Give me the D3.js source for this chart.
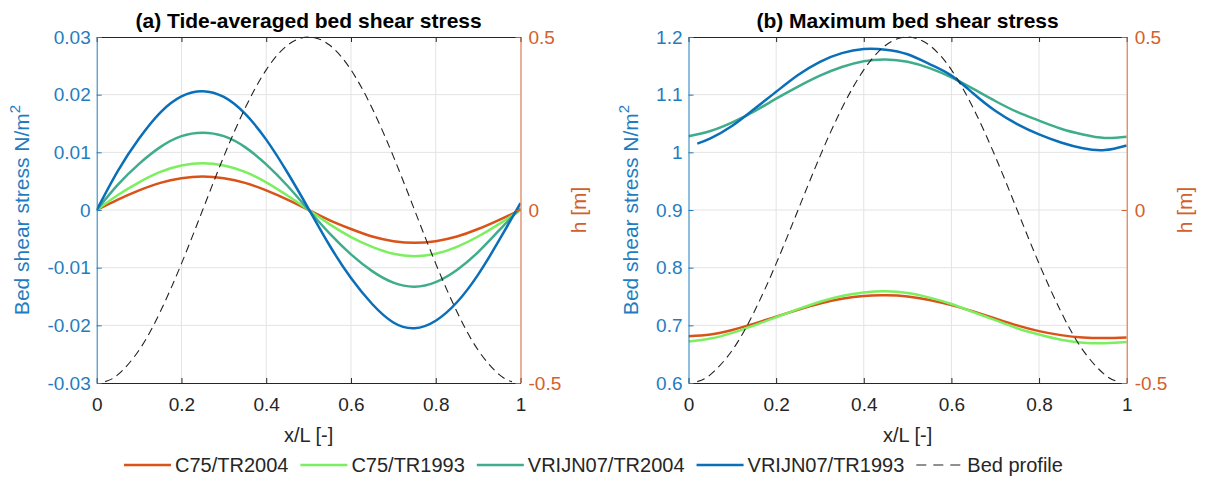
<!DOCTYPE html>
<html>
<head>
<meta charset="utf-8">
<script src="https://cdn.jsdelivr.net/npm/d3@7"></script>
<style>
  body { margin: 0; background: #fff; }
  svg { font-family: 'Liberation Sans', Arial, Helvetica, sans-serif; }
</style>
</head>
<body>
<div class="chart"></div>
<script>
// DATA
// ----------------------------
const xPos = [0, 0.05, 0.1, 0.15, 0.2, 0.25, 0.3, 0.35, 0.4, 0.45, 0.5,
  0.55, 0.6, 0.65, 0.7, 0.75, 0.8, 0.85, 0.9, 0.95, 1]
const xPosLate = [0.02, 0.05, 0.1, 0.15, 0.2, 0.25, 0.3, 0.35, 0.4, 0.45, 0.5,
  0.55, 0.6, 0.65, 0.7, 0.75, 0.8, 0.85, 0.9, 0.95, 1]
const xBed = [0.02, 0.05, 0.1, 0.15, 0.2, 0.25, 0.3, 0.35, 0.4, 0.45, 0.5,
  0.55, 0.6, 0.65, 0.7, 0.75, 0.8, 0.85, 0.9, 0.95, 0.98]

// bed profile h [m]
const bedProfile = [-0.496, -0.476, -0.405, -0.294, -0.155, 0, 0.155, 0.294, 0.405, 0.476, 0.5,
  0.476, 0.405, 0.294, 0.155, 0, -0.155, -0.294, -0.405, -0.476, -0.496]

// (a) tide-averaged bed shear stress N/m2
const avgC75TR2004 = [0, 0.0018, 0.0034, 0.0047, 0.0055, 0.0058, 0.0055, 0.0047, 0.0034, 0.0018, 0,
  -0.0018, -0.0033, -0.0046, -0.0054, -0.0057, -0.0054, -0.0046, -0.0033, -0.0017, 0]
const avgC75TR1993 = [0, 0.0026, 0.0048, 0.0066, 0.0077, 0.0081, 0.0077, 0.0066, 0.0048, 0.0025, 0,
  -0.0025, -0.0047, -0.0064, -0.0076, -0.0080, -0.0076, -0.0064, -0.0046, -0.0024, 0]
const avgVRIJN07TR2004 = [0, 0.0044, 0.0080, 0.0109, 0.0128, 0.0134, 0.0128, 0.0109, 0.0079, 0.0042, 0,
  -0.0041, -0.0077, -0.0106, -0.0126, -0.0133, -0.0125, -0.0104, -0.0073, -0.0035, 0.0003]
const avgVRIJN07TR1993 = [0, 0.0068, 0.0124, 0.0169, 0.0197, 0.0206, 0.0196, 0.0167, 0.0122, 0.0065, 0.0002,
  -0.0062, -0.0118, -0.0163, -0.0195, -0.0205, -0.0192, -0.0160, -0.0112, -0.0052, 0.0012]

// (b) maximum bed shear stress N/m2
const maxC75TR2004 = [0.681, 0.684, 0.692, 0.703, 0.715, 0.727, 0.738, 0.746, 0.751, 0.752, 0.750,
  0.744, 0.735, 0.724, 0.712, 0.700, 0.690, 0.683, 0.679, 0.678, 0.679]
const maxC75TR1993 = [0.672, 0.677, 0.687, 0.700, 0.714, 0.728, 0.741, 0.751, 0.757, 0.759, 0.756,
  0.748, 0.737, 0.723, 0.709, 0.695, 0.684, 0.675, 0.670, 0.669, 0.671]
const maxVRIJN07TR2004 = [1.028, 1.037, 1.052, 1.071, 1.093, 1.114, 1.133, 1.148, 1.158, 1.161, 1.157,
  1.146, 1.130, 1.110, 1.089, 1.070, 1.055, 1.041, 1.031, 1.025, 1.027]
const maxVRIJN07TR1993 = [1.015, 1.024, 1.046, 1.075, 1.105, 1.134, 1.157, 1.172, 1.179, 1.178, 1.170,
  1.153, 1.133, 1.102, 1.072, 1.049, 1.031, 1.017, 1.007, 1.004, 1.012]

// ticks
const xTicks = [0, 0.2, 0.4, 0.6, 0.8, 1]
const xTickLabels = ['0', '0.2', '0.4', '0.6', '0.8', '1']
const hTicks = [-0.5, 0, 0.5]
const hTickLabels = ['-0.5', '0', '0.5']
const avgTicks = [-0.03, -0.02, -0.01, 0, 0.01, 0.02, 0.03]
const avgTickLabels = ['-0.03', '-0.02', '-0.01', '0', '0.01', '0.02', '0.03']
const maxTicks = [0.6, 0.7, 0.8, 0.9, 1.0, 1.1, 1.2]
const maxTickLabels = ['0.6', '0.7', '0.8', '0.9', '1', '1.1', '1.2']

const seriesNames = ['C75/TR2004', 'C75/TR1993', 'VRIJN07/TR2004', 'VRIJN07/TR1993']
const seriesColors = ['#D95319', '#7BEF5F', '#3FAD8B', '#0A6FB8']

// SETUP
// ----------------------------
const fullWidth = 1206
const fullHeight = 478
const plotTop = 37
const plotBottom = 383
const leftColor = '#1F7DBF'
const rightColor = '#D2602A'
const inkColor = '#262626'

const svg = d3.select('.chart')
  .append('svg')
    .attr('width', fullWidth)
    .attr('height', fullHeight)

const panels = [
  {
    id: 'a', left: 96.7, right: 520.5,
    title: '(a) Tide-averaged bed shear stress',
    yDomain: [-0.03, 0.03], yTicks: avgTicks, yTickLabels: avgTickLabels,
    ys: [avgC75TR2004, avgC75TR1993, avgVRIJN07TR2004, avgVRIJN07TR1993],
    xs: [xPos, xPos, xPos, xPos]
  },
  {
    id: 'b', left: 688.5, right: 1126.7,
    title: '(b) Maximum bed shear stress',
    yDomain: [0.6, 1.2], yTicks: maxTicks, yTickLabels: maxTickLabels,
    ys: [maxC75TR2004, maxC75TR1993, maxVRIJN07TR2004, maxVRIJN07TR1993],
    xs: [xPos, xPos, xPos, xPosLate]
  }
]

panels.forEach(drawPanel)
drawLegend()

function drawPanel (p) {
  const g = svg.append('g').attr('class', 'panel-' + p.id)

  const xScale = d3.scaleLinear().domain([0, 1]).range([p.left, p.right])
  const yScale = d3.scaleLinear().domain(p.yDomain).range([plotBottom, plotTop])
  const hScale = d3.scaleLinear().domain([-0.5, 0.5]).range([plotBottom, plotTop])

  // GRID
  // ----------------------------
  g.append('g')
    .selectAll('line')
    .data(xTicks.slice(1, -1))
    .enter()
    .append('line')
      .attr('x1', d => xScale(d)).attr('x2', d => xScale(d))
      .attr('y1', plotTop).attr('y2', plotBottom)
      .attr('stroke', '#e3e3e3').attr('stroke-width', 1)
  g.append('g')
    .selectAll('line')
    .data(p.yTicks.slice(1, -1))
    .enter()
    .append('line')
      .attr('x1', p.left).attr('x2', p.right)
      .attr('y1', d => yScale(d)).attr('y2', d => yScale(d))
      .attr('stroke', '#e3e3e3').attr('stroke-width', 1)

  // CURVES
  // ----------------------------
  const clipId = 'clip-' + p.id
  g.append('clipPath').attr('id', clipId)
    .append('rect')
      .attr('x', p.left).attr('y', plotTop - 1)
      .attr('width', p.right - p.left).attr('height', plotBottom - plotTop + 2)

  const curves = g.append('g').attr('clip-path', `url(#${clipId})`)

  p.ys.forEach((vals, i) => {
    const pts = vals.map((v, j) => [p.xs[i][j], v])
    const line = d3.line()
      .x(d => xScale(d[0]))
      .y(d => yScale(d[1]))
      .curve(d3.curveNatural)
    curves.append('path')
      .datum(pts)
      .attr('d', line)
      .attr('fill', 'none')
      .attr('stroke', seriesColors[i])
      .attr('stroke-width', 2.5)
  })

  const bedLine = d3.line()
    .x(d => xScale(d[0]))
    .y(d => hScale(d[1]))
    .curve(d3.curveNatural)
  curves.append('path')
    .datum(bedProfile.map((v, j) => [xBed[j], v]))
    .attr('d', bedLine)
    .attr('fill', 'none')
    .attr('stroke', '#222')
    .attr('stroke-width', 1.1)
    .attr('stroke-dasharray', '8,5')

  // AXES
  // ----------------------------
  const xAxis = d3.axisBottom(xScale)
    .tickValues(xTicks)
    .tickFormat((d, i) => xTickLabels[i])
    .tickSizeInner(-5).tickSizeOuter(0).tickPadding(15)
  const xAxisG = g.append('g')
    .attr('transform', `translate(0, ${plotBottom})`)
    .call(xAxis)
  styleAxis(xAxisG, inkColor)
  xAxisG.selectAll('text').attr('font-size', 19)

  const xAxisTop = d3.axisTop(xScale)
    .tickValues(xTicks)
    .tickFormat('')
    .tickSizeInner(-5).tickSizeOuter(0)
  const xAxisTopG = g.append('g')
    .attr('transform', `translate(0, ${plotTop})`)
    .call(xAxisTop)
  styleAxis(xAxisTopG, inkColor)

  const yAxis = d3.axisLeft(yScale)
    .tickValues(p.yTicks)
    .tickFormat((d, i) => p.yTickLabels[i])
    .tickSizeInner(-5).tickSizeOuter(0).tickPadding(6)
  const yAxisG = g.append('g')
    .attr('transform', `translate(${p.left}, 0)`)
    .call(yAxis)
  styleAxis(yAxisG, leftColor)
  yAxisG.selectAll('text').attr('font-size', 19)

  const hAxis = d3.axisRight(hScale)
    .tickValues(hTicks)
    .tickFormat((d, i) => hTickLabels[i])
    .tickSizeInner(-5).tickSizeOuter(0).tickPadding(8)
  const hAxisG = g.append('g')
    .attr('transform', `translate(${p.right}, 0)`)
    .call(hAxis)
  styleAxis(hAxisG, rightColor)
  hAxisG.selectAll('text').attr('font-size', 19)

  // LABELS
  // ----------------------------
  const cx = (p.left + p.right) / 2
  g.append('text')
    .attr('x', cx).attr('y', 28)
    .attr('text-anchor', 'middle')
    .attr('font-size', 21).attr('font-weight', 'bold')
    .attr('fill', '#000')
    .text(p.title)

  g.append('text')
    .attr('x', cx).attr('y', 442)
    .attr('text-anchor', 'middle')
    .attr('font-size', 20)
    .attr('fill', inkColor)
    .text('x/L [-]')

  // left label sits just outside the widest tick label
  const tickW = d3.max(yAxisG.selectAll('text').nodes(), n => n.getComputedTextLength())
  const yLabX = p.left - 6 - tickW - 18
  const yLab = g.append('text')
    .attr('transform', `translate(${yLabX}, ${(plotTop + plotBottom) / 2}) rotate(-90)`)
    .attr('text-anchor', 'middle')
    .attr('font-size', 21)
    .attr('fill', leftColor)
  yLab.append('tspan').text('Bed shear stress N/m')
  yLab.append('tspan').attr('dy', -9).attr('font-size', 15).text('2')

  const hW = d3.max(hAxisG.selectAll('text').nodes(), n => n.getComputedTextLength())
  g.append('text')
    .attr('transform', `translate(${p.right + 8 + hW + 25}, ${(plotTop + plotBottom) / 2}) rotate(-90)`)
    .attr('text-anchor', 'middle')
    .attr('font-size', 21)
    .attr('fill', rightColor)
    .text('h [m]')
}

function styleAxis (axisG, color) {
  axisG.select('.domain').attr('stroke', color).attr('stroke-width', 1)
  axisG.selectAll('.tick line').attr('stroke', color)
  axisG.selectAll('.tick text').attr('fill', color)
  axisG.attr('font-family', null)
}

// LEGEND
// ----------------------------
function drawLegend () {
  const legend = svg.append('g').attr('class', 'legend')
  const entries = seriesNames.map((n, i) => ({ name: n, color: seriesColors[i], dash: null }))
  entries.push({ name: 'Bed profile', color: '#222', dash: '10,7' })

  let xCursor = 124
  const yMid = 465
  entries.forEach(e => {
    legend.append('line')
      .attr('x1', xCursor).attr('x2', xCursor + 47)
      .attr('y1', yMid).attr('y2', yMid)
      .attr('stroke', e.color)
      .attr('stroke-width', e.dash ? 1.1 : 2.6)
      .attr('stroke-dasharray', e.dash)
    const t = legend.append('text')
      .attr('x', xCursor + 51).attr('y', yMid + 7)
      .attr('font-size', 20)
      .attr('fill', inkColor)
      .text(e.name)
    xCursor += 51 + t.node().getComputedTextLength() + 12
  })
}
</script>
</body>
</html>
